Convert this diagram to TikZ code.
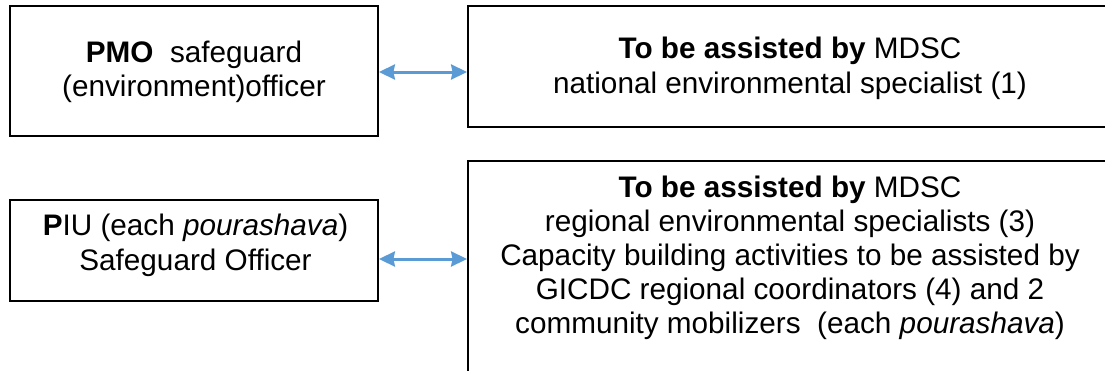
\documentclass[tikz,border=0pt]{standalone}
\usepackage{fontspec}
\setmainfont{Liberation Sans}
\usetikzlibrary{arrows.meta}
\definecolor{arrowblue}{HTML}{5B9BD5}
\tikzset{
  boxnode/.style={draw=black, line width=1.8pt, rectangle, inner sep=0pt},
  boxtext/.style={align=center, inner sep=0pt, font=\fontsize{29.7}{34}\selectfont},
  conn/.style={draw=arrowblue, line width=3pt,
    {Stealth[length=16pt,width=15pt,inset=1.5pt]}-{Stealth[length=16pt,width=15pt,inset=1.5pt]}}
}
\begin{document}
\begin{tikzpicture}[x=1pt,y=-1pt]
\useasboundingbox (0,0) rectangle (1105,370);
\clip (0,0) rectangle (1105,370);
% boxes
\node[boxnode, minimum width=368pt, minimum height=130pt] (pmo) at (194,71) {};
\node[boxnode, minimum width=644pt, minimum height=121pt] (mdscA) at (790,66.5) {};
\node[boxnode, minimum width=368pt, minimum height=101pt] (piu) at (194,250.5) {};
\node[boxnode, minimum width=644pt, minimum height=239pt] (mdscB) at (790,280.5) {};
% texts
\node[boxtext] (pmotxt) at (194,72.2) {\textbf{PMO}\ \ safeguard\\(environment)officer};
\node[boxtext, font=\fontsize{29.7}{35}\selectfont] (mdscAtxt) at (790,68.8) {\textbf{To be assisted by} MDSC\\national environmental specialist (1)};
\node[boxtext, font=\fontsize{29.7}{35}\selectfont] (piutxt) at (195.5,245) {\textbf{P}IU (each \textit{pourashava})\\Safeguard Officer};
\node[boxtext, font=\fontsize{29.7}{33.8}\selectfont] (mdscBtxt) at (790,257.9) {\textbf{To be assisted by} MDSC\\regional environmental specialists (3)\\Capacity building activities to be assisted by\\GICDC regional coordinators (4) and 2\\community mobilizers\ \ (each \textit{pourashava})};
% connectors
\coordinate (a1) at ([yshift=-1pt]pmo.east);
\coordinate (a2) at ([yshift=-8.5pt]piu.east);
\draw[conn] (a1) -- (a1 -| mdscA.west);
\draw[conn] (a2) -- (a2 -| mdscB.west);
\end{tikzpicture}
\end{document}
